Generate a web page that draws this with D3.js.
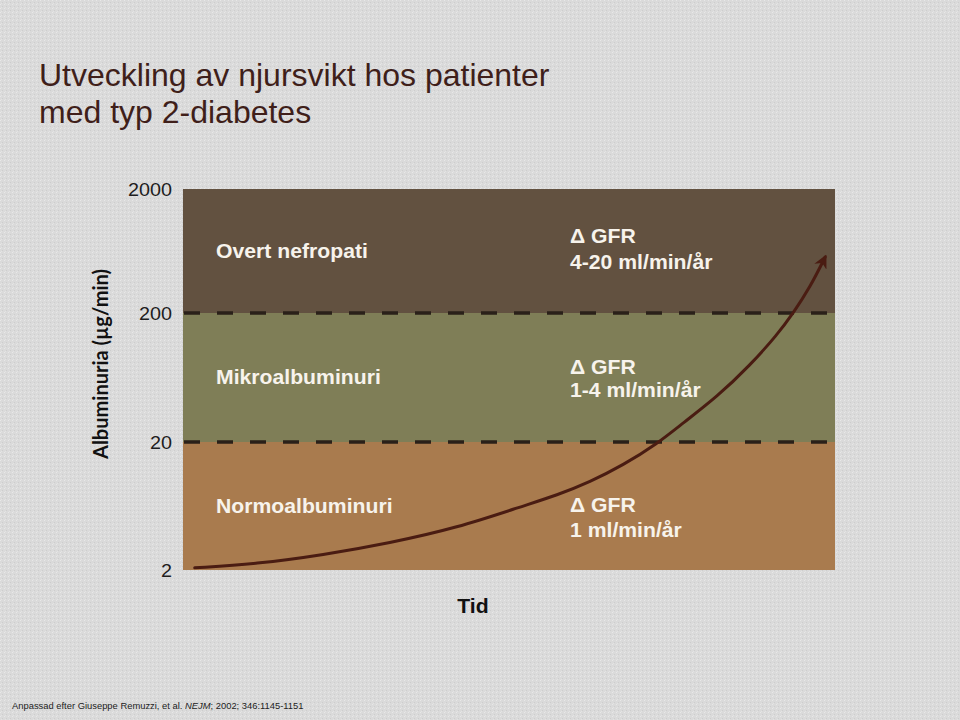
<!DOCTYPE html>
<html>
<head>
<meta charset="utf-8">
<script src="https://cdn.jsdelivr.net/npm/d3@7"></script>
<style>
  html, body { margin: 0; padding: 0; background: #dadada; }
  svg { display: block; }
</style>
</head>
<body>
<svg id="chart" width="960" height="720"></svg>
<script>
// ---- data ----
const titleLines = ["Utveckling av njursvikt hos patienter", "med typ 2-diabetes"];
const yTicks = [2, 20, 200, 2000];
const bandNames = ["Normoalbuminuri", "Mikroalbuminuri", "Overt nefropati"];
const bandLow = [2, 20, 200];
const bandHigh = [20, 200, 2000];
const bandColors = ["#a97b4e", "#7f7e57", "#625140"];
const gfrLine1 = ["\u0394 GFR", "\u0394 GFR", "\u0394 GFR"];
const gfrLine2 = ["1 ml/min/år", "1-4 ml/min/år", "4-20 ml/min/år"];
const thresholds = [20, 200];
const curveTime = [1.8, 11.3, 21.5, 31.7, 42.0, 52.1, 57.4, 62.4, 67.5, 72.7, 76.7, 81.9, 87.0, 91.1, 93.6, 96.2, 98.5];
const curveAlb  = [2.08, 2.23, 2.62, 3.25, 4.26, 6.32, 7.7, 9.74, 13.2, 19.3, 28.1, 44.7, 79, 135, 200, 324, 566];
const yLabel = "Albuminuria (\u00b5g/min)";
const xLabel = "Tid";

// ---- layout ----
const svg = d3.select("#chart");
const plot = { left: 183, right: 835 };
const font = "Liberation Sans, Arial, sans-serif";

const x = d3.scaleLinear().domain([0, 100]).range([plot.left, plot.right]);
const y = d3.scaleLog().domain([2, 20, 200, 2000]).range([570, 442, 313, 189]);

// background texture
const defs = svg.append("defs");
const pat = defs.append("pattern").attr("id", "tex").attr("width", 4).attr("height", 4)
  .attr("patternUnits", "userSpaceOnUse");
pat.append("rect").attr("width", 4).attr("height", 4).attr("fill", "#dadada");
pat.append("rect").attr("x", 0).attr("y", 0).attr("width", 1).attr("height", 1).attr("fill", "#e8e8e8");
pat.append("rect").attr("x", 2).attr("y", 2).attr("width", 1).attr("height", 1).attr("fill", "#cdcdcd");
pat.append("rect").attr("x", 1).attr("y", 3).attr("width", 1).attr("height", 1).attr("fill", "#e3e3e3");
svg.append("rect").attr("width", 960).attr("height", 720).attr("fill", "url(#tex)");

// horizontally stretched text helper
function stext(g, tx, ty, k, txt) {
  return g.append("text").attr("transform", `translate(${tx},${ty}) scale(${k},1)`).text(txt);
}

// title
svg.append("g").selectAll("text").data(titleLines).join("text")
  .attr("x", 39).attr("y", (d, i) => 86 + i * 37)
  .attr("font-family", font)
  .attr("font-size", 32).attr("fill", "#3f1f1a")
  .text(d => d);

// bands
const bands = bandNames.map((n, i) => ({ name: n, lo: bandLow[i], hi: bandHigh[i], color: bandColors[i], g1: gfrLine1[i], g2: gfrLine2[i] }));
svg.append("g").selectAll("rect").data(bands).join("rect")
  .attr("x", x(0)).attr("width", x(100) - x(0))
  .attr("y", d => y(d.hi)).attr("height", d => y(d.lo) - y(d.hi))
  .attr("fill", d => d.color);

// dashed threshold lines
svg.append("g").selectAll("line").data(thresholds).join("line")
  .attr("x1", x(0) + 1).attr("x2", x(100))
  .attr("y1", d => y(d)).attr("y2", d => y(d))
  .attr("stroke", "#2a2019").attr("stroke-width", 3.5)
  .attr("stroke-dasharray", "16,17");

// band labels
const bl = svg.append("g").attr("font-family", font).attr("font-size", 20)
  .attr("font-weight", "bold").attr("fill", "#f7f3ec");
bands.forEach(d => stext(bl, 216, (y(d.lo) + y(d.hi)) / 2 + 6.5, 1.06, d.name));

// GFR labels (per-band vertical offsets of first line and line gap)
const gfrOff = [6, -3.5, -8];
const gfrGap = [25, 23, 26];
bands.forEach((d, i) => {
  const cy = (y(d.lo) + y(d.hi)) / 2;
  stext(bl, 570, cy + gfrOff[i], 1.06, d.g1);
  stext(bl, 570, cy + gfrOff[i] + gfrGap[i], 1.06, d.g2);
});

// y axis tick labels
const tg = svg.append("g").attr("font-family", font).attr("font-size", 18).attr("fill", "#1e1e1e")
  .attr("text-anchor", "end");
yTicks.forEach(t => stext(tg, 172, y(t) + 7, 1.1, t));

// y axis title
svg.append("text")
  .attr("transform", `translate(108,364) rotate(-90)`)
  .attr("text-anchor", "middle")
  .attr("font-family", "Lato, 'Open Sans', sans-serif")
  .attr("font-weight", "bold").attr("font-size", 20)
  .attr("textLength", 190).attr("lengthAdjust", "spacingAndGlyphs")
  .attr("fill", "#111")
  .text(yLabel);

// x axis title
const xg = svg.append("g").attr("font-family", font).attr("font-weight", "bold").attr("font-size", 20)
  .attr("fill", "#111").attr("text-anchor", "middle");
stext(xg, 473, 613, 1.06, xLabel);

// arrow marker
defs.append("marker").attr("id", "arrow")
  .attr("viewBox", "0 0 10 10").attr("refX", 8).attr("refY", 5)
  .attr("markerWidth", 4.5).attr("markerHeight", 4.5)
  .attr("orient", "auto")
  .append("path").attr("d", "M0,0 L10,5 L0,10 L3,5 Z").attr("fill", "#4a1c12");

// curve
const pts = curveTime.map((t, i) => [x(t), y(curveAlb[i])]);
svg.append("path")
  .attr("d", d3.line().curve(d3.curveBasis)(pts))
  .attr("fill", "none").attr("stroke", "#4a1c12").attr("stroke-width", 3)
  .attr("stroke-linecap", "round")
  .attr("marker-end", "url(#arrow)");

// footer
const foot = svg.append("text").attr("x", 12).attr("y", 709)
  .attr("font-family", font).attr("font-size", 9.4).attr("fill", "#222");
foot.append("tspan").text("Anpassad efter Giuseppe Remuzzi, et al. ");
foot.append("tspan").attr("font-style", "italic").text("NEJM");
foot.append("tspan").text("; 2002; 346:1145-1151");
</script>
</body>
</html>
